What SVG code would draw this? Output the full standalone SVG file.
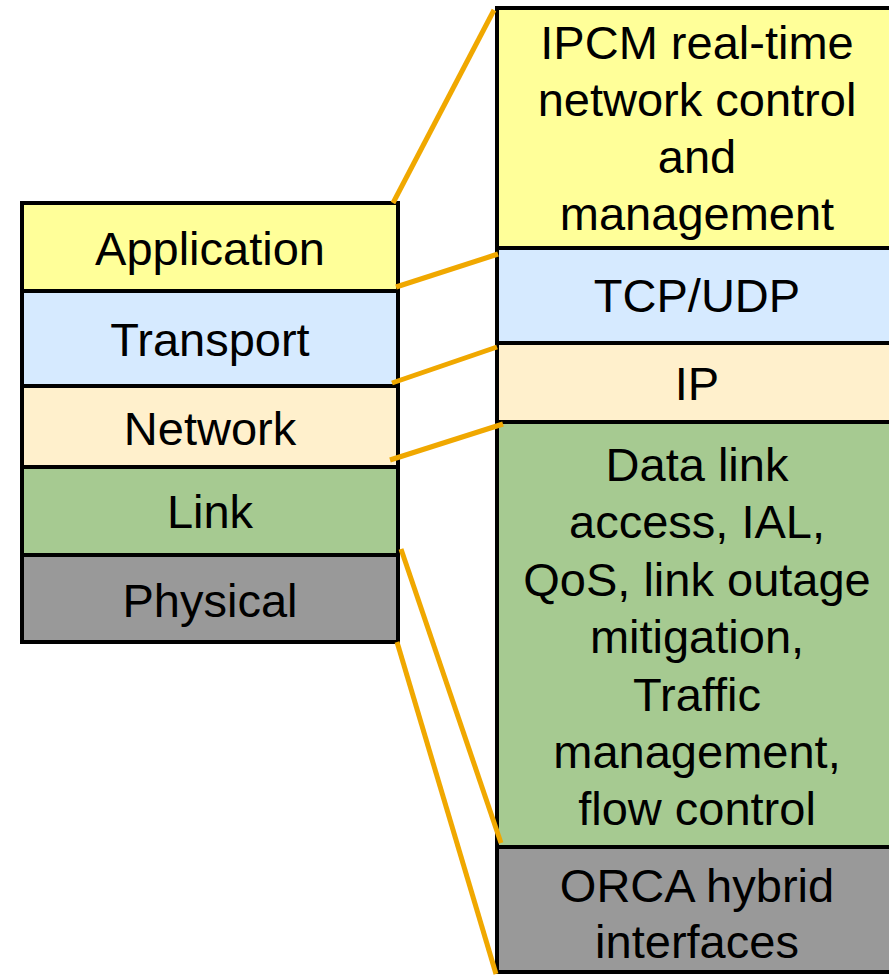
<svg xmlns="http://www.w3.org/2000/svg" width="889" height="976" viewBox="0 0 889 976">
<style>
.box{stroke:#000;stroke-width:4;stroke-linejoin:miter}
.t{font-family:"Liberation Sans",Arial,sans-serif;font-size:47px;fill:#000;text-anchor:middle}
.c{stroke:#F0A800;stroke-width:5;fill:none;stroke-linecap:butt}
.y{fill:#FFFF99}.b{fill:#D6EAFF}.n{fill:#FFF0CC}.g{fill:#A6CA91}.p{fill:#999999}
</style>
<rect width="889" height="976" fill="#fff"/>
<g id="left-stack">
<g id="app"><rect class="box y" x="22" y="203" width="376" height="88"/><text class="t" x="210" y="265">Application</text></g>
<g id="transport"><rect class="box b" x="22" y="291" width="376" height="95"/><text class="t" x="210" y="356">Transport</text></g>
<g id="network"><rect class="box n" x="22" y="386" width="376" height="81"/><text class="t" x="210" y="445">Network</text></g>
<g id="link"><rect class="box g" x="22" y="467" width="376" height="88"/><text class="t" x="210" y="528">Link</text></g>
<g id="physical"><rect class="box p" x="22" y="555" width="376" height="87"/><text class="t" x="210" y="617">Physical</text></g>
</g>
<g id="right-stack">
<g id="ipcm"><rect class="box y" x="497" y="8" width="400" height="240"/><text class="t" x="697" y="59">IPCM real-time</text><text class="t" x="697" y="116">network control</text><text class="t" x="697" y="173">and</text><text class="t" x="697" y="230">management</text></g>
<g id="tcpudp"><rect class="box b" x="497" y="248" width="400" height="95"/><text class="t" x="697" y="312">TCP/UDP</text></g>
<g id="ip"><rect class="box n" x="497" y="343" width="400" height="79"/><text class="t" x="697" y="400">IP</text></g>
<g id="datalink"><rect class="box g" x="497" y="422" width="400" height="425"/><text class="t" x="697" y="481">Data link</text><text class="t" x="697" y="538">access, IAL,</text><text class="t" x="697" y="596">QoS, link outage</text><text class="t" x="697" y="653">mitigation,</text><text class="t" x="697" y="711">Traffic</text><text class="t" x="697" y="768">management,</text><text class="t" x="697" y="825">flow control</text></g>
<g id="orca"><rect class="box p" x="497" y="847" width="400" height="125"/><text class="t" x="697" y="902">ORCA hybrid</text><text class="t" x="697" y="958">interfaces</text></g>
</g>
<g id="connectors">
<line class="c" x1="393" y1="203" x2="494" y2="10"/>
<line class="c" x1="396" y1="287" x2="498" y2="254"/>
<line class="c" x1="392" y1="383" x2="497" y2="347"/>
<line class="c" x1="390" y1="460" x2="503" y2="424"/>
<line class="c" x1="401" y1="549" x2="501" y2="843"/>
<line class="c" x1="397" y1="642" x2="496" y2="974"/>
</g>
</svg>
